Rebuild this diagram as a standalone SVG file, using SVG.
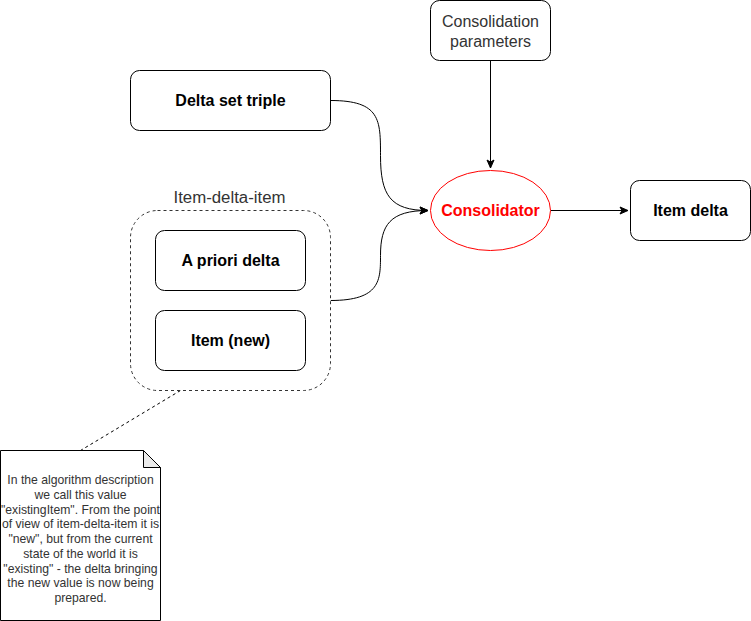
<svg xmlns="http://www.w3.org/2000/svg" width="751" height="621" viewBox="0 0 751 621">
<defs>
<marker id="arr" viewBox="0 0 10 10" refX="9" refY="5" markerWidth="10" markerHeight="10" markerUnits="userSpaceOnUse" orient="auto">
<path d="M1,1.5 L9,5 L1,8.5 L3,5 Z" fill="#000" stroke="#000" stroke-width="1"/>
</marker>
</defs>
<style>
.box{fill:#fff;stroke:#000;stroke-width:1}
.lbl{font-family:"Liberation Sans",Arial,sans-serif;font-size:16px;font-weight:bold;fill:#000;text-anchor:middle;dominant-baseline:central}
.gry{font-family:"Liberation Sans",Arial,sans-serif;font-size:16px;fill:#333;text-anchor:middle;dominant-baseline:central}
.note{font-family:"Liberation Sans",Arial,sans-serif;font-size:12.2px;fill:#333;text-anchor:middle;dominant-baseline:central}
.edge{fill:none;stroke:#000;stroke-width:1}
</style>
<g id="connectors">
<path class="edge" d="M330.5,100.5 C380.5,100.5 380.5,120 380.5,155.5 C380.5,195 390,210.5 428,210.5" marker-end="url(#arr)"/>
<path class="edge" d="M330.5,300.5 C380.5,300.5 380.5,280 380.5,255.5 C380.5,225 390,210.5 428,210.5" marker-end="url(#arr)"/>
<path class="edge" d="M490.5,60.5 L490.5,168" marker-end="url(#arr)"/>
<path class="edge" d="M550.5,210.5 L628,210.5" marker-end="url(#arr)"/>
<path fill="none" stroke="#000" stroke-width="1" stroke-dasharray="3 3" d="M180.5,390.5 L80.5,450.5"/>
</g>
<g id="group-item-delta-item">
<rect x="130.5" y="210.5" width="200" height="180" rx="27" ry="27" fill="#fff" stroke="#333" stroke-dasharray="3 3"/>
<text class="gry" x="229.5" y="197.5" textLength="112" lengthAdjust="spacingAndGlyphs">Item-delta-item</text>
</g>
<g id="delta-set-triple">
<rect class="box" x="130.5" y="70.5" width="200" height="60" rx="9" ry="9"/>
<text class="lbl" x="230.5" y="100.5">Delta set triple</text>
</g>
<g id="consolidation-parameters">
<rect class="box" x="430.5" y="0.5" width="120" height="60" rx="9" ry="9"/>
<text class="gry" x="490.5" y="21">Consolidation</text>
<text class="gry" x="490.5" y="41">parameters</text>
</g>
<g id="consolidator">
<ellipse cx="490.5" cy="210.5" rx="60" ry="40" fill="#fff" stroke="#f00" stroke-width="1"/>
<text class="lbl" x="490.5" y="210.5" style="fill:#f00">Consolidator</text>
</g>
<g id="item-delta">
<rect class="box" x="630.5" y="180.5" width="120" height="60" rx="9" ry="9"/>
<text class="lbl" x="690.5" y="210.5">Item delta</text>
</g>
<g id="a-priori-delta">
<rect class="box" x="155.5" y="230.5" width="150" height="60" rx="9" ry="9"/>
<text class="lbl" x="230.5" y="260.5">A priori delta</text>
</g>
<g id="item-new">
<rect class="box" x="155.5" y="310.5" width="150" height="60" rx="9" ry="9"/>
<text class="lbl" x="230.5" y="340.5">Item (new)</text>
</g>
<g id="note">
<path d="M0.5,450.5 L143.5,450.5 L160.5,467.5 L160.5,620.5 L0.5,620.5 Z" fill="#fff" stroke="#000"/>
<path d="M143.5,450.5 L143.5,467.5 L160.5,467.5 Z" fill="#ebebeb" stroke="#000"/>
<text class="note" x="80.5" y="480">In the algorithm description</text>
<text class="note" x="80.5" y="494.7">we call this value</text>
<text class="note" x="80.5" y="509.5">"existingItem". From the point</text>
<text class="note" x="80.5" y="524.2">of view of item-delta-item it is</text>
<text class="note" x="80.5" y="539">"new", but from the current</text>
<text class="note" x="80.5" y="553.7">state of the world it is</text>
<text class="note" x="80.5" y="568.5">"existing" - the delta bringing</text>
<text class="note" x="80.5" y="583.2">the new value is now being</text>
<text class="note" x="80.5" y="598">prepared.</text>
</g>
</svg>
